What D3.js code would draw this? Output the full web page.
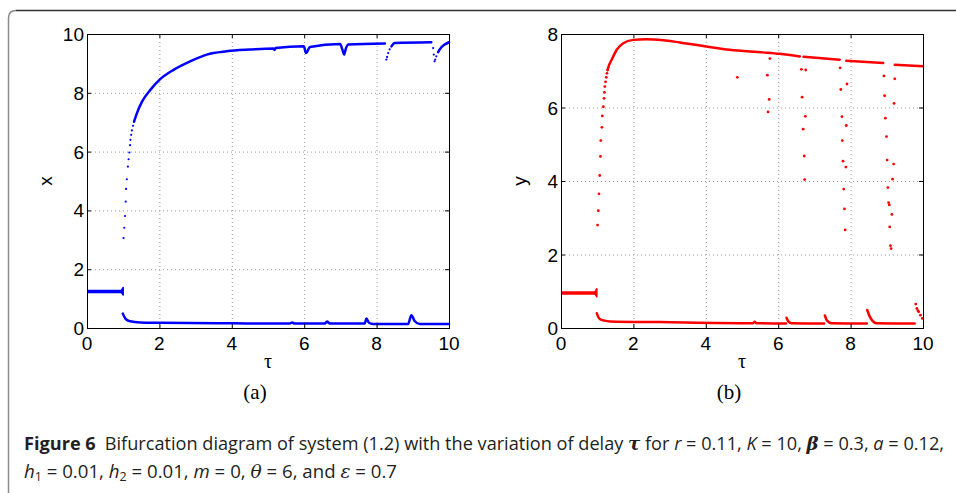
<!DOCTYPE html>
<html>
<head>
<meta charset="utf-8">
<script src="https://cdn.jsdelivr.net/npm/d3@7"></script>
<style>
  body { margin: 0; background: #fff; }
  svg { display: block; }
</style>
</head>
<body>
<script>
// 軸の目盛り
const tauTicks = [0, 2, 4, 6, 8, 10];
const xTicks = [0, 2, 4, 6, 8, 10];
const yTicks = [0, 2, 4, 6, 8];

// (a) x の分岐図 : 連続部分は線、まばらな部分は点
const xSteady = [[0, 1.24], [0.99, 1.24]];
const xFlare = [[0.93, 1.24], [1.0, 1.12], [1.0, 1.38], [0.93, 1.24]];
const xRiseDots = [[1.01, 3.06], [1.03, 3.41], [1.05, 3.81], [1.07, 4.30], [1.08, 4.73], [1.10, 5.06], [1.13, 5.49], [1.15, 5.74], [1.17, 5.97], [1.19, 6.22], [1.20, 6.40], [1.22, 6.57], [1.24, 6.72], [1.27, 6.88], [1.30, 7.02]];
const xUpper = [
    [[1.30, 7.02], [1.38, 7.31], [1.52, 7.70], [1.75, 8.10], [2.0, 8.44], [2.39, 8.78], [2.85, 9.07], [3.31, 9.30], [3.86, 9.41], [4.5, 9.47], [5.15, 9.51], [5.18, 9.46], [5.21, 9.52], [5.99, 9.58], [6.05, 9.35], [6.16, 9.56], [6.99, 9.66], [7.06, 9.45], [7.1, 9.30], [7.15, 9.5], [7.22, 9.64], [8.23, 9.68]],
    [[8.41, 9.58], [8.5, 9.69], [9.51, 9.72]],
    [[9.70, 9.38], [9.74, 9.47], [9.88, 9.64], [10, 9.72]]
];
const xUpperDots = [[8.27, 9.13], [8.29, 9.22], [8.32, 9.35], [8.36, 9.48], [9.56, 9.52], [9.58, 9.3], [9.60, 9.07], [9.62, 9.13], [9.65, 9.24]];
const xLower = [[0.99, 0.49], [1.06, 0.32], [1.19, 0.23], [1.47, 0.19], [2, 0.18], [4.04, 0.16], [5.6, 0.15], [5.67, 0.19], [5.73, 0.15], [6.57, 0.15], [6.63, 0.22], [6.71, 0.15], [7.67, 0.15], [7.72, 0.32], [7.79, 0.18], [7.9, 0.14], [8.87, 0.14], [8.96, 0.43], [9.05, 0.24], [9.19, 0.14], [10, 0.14]];

// (b) y の分岐図
const ySteady = [[0, 0.95], [0.98, 0.95]];
const yFlare = [[0.92, 0.95], [0.99, 0.85], [0.99, 1.07], [0.92, 0.95]];
const yRiseDots = [[1.01, 2.8], [1.03, 3.19], [1.05, 3.65], [1.07, 4.15], [1.09, 4.67], [1.10, 5.10], [1.13, 5.46], [1.14, 5.77], [1.17, 6.02], [1.19, 6.25], [1.20, 6.41], [1.21, 6.57], [1.23, 6.70], [1.25, 6.82], [1.27, 6.93], [1.29, 7.02]];
const yUpper = [
    [[1.29, 7.02], [1.31, 7.1], [1.4, 7.3], [1.54, 7.57], [1.72, 7.75], [2.0, 7.84], [2.36, 7.86], [2.82, 7.83], [3.28, 7.77], [4.02, 7.66], [4.66, 7.57], [5.58, 7.5], [6.04, 7.46], [6.6, 7.39]],
    [[6.7, 7.38], [7.7, 7.3]],
    [[7.88, 7.27], [8.9, 7.21]],
    [[9.22, 7.16], [10, 7.12]]
];
const yScatter = [[4.87, 6.82], [5.70, 6.88], [5.77, 7.33], [5.75, 6.22], [5.72, 5.88], [6.64, 7.04], [6.76, 7.02], [6.66, 6.28], [6.75, 5.76], [6.69, 5.41], [6.72, 4.68], [6.73, 4.04], [7.71, 7.08], [7.90, 6.64], [7.73, 6.49], [7.76, 5.75], [7.88, 5.51], [7.77, 5.10], [7.79, 4.54], [7.87, 4.38], [7.81, 3.78], [7.83, 3.24], [7.85, 2.67], [8.92, 6.86], [9.22, 6.78], [8.94, 6.32], [9.20, 6.11], [8.96, 5.71], [8.99, 5.21], [9.01, 4.57], [9.19, 4.46], [9.03, 3.82], [9.16, 4.05], [9.05, 3.41], [9.07, 3.35], [9.14, 3.09], [9.08, 2.75], [9.10, 2.24], [9.12, 2.16]];
const yLower = [
    [[0.99, 0.4], [1.03, 0.3], [1.08, 0.24], [1.2, 0.2], [1.35, 0.18], [2.73, 0.16], [5.3, 0.13], [5.35, 0.17], [5.4, 0.13], [6.22, 0.12]],
    [[6.23, 0.28], [6.28, 0.18], [6.37, 0.13], [7.27, 0.12]],
    [[7.29, 0.34], [7.35, 0.2], [7.47, 0.13], [8.45, 0.12]],
    [[8.46, 0.49], [8.52, 0.33], [8.6, 0.2], [8.71, 0.13], [9.77, 0.12]]
];
const yTailDots = [[9.80, 0.65], [9.83, 0.53], [9.86, 0.47], [9.88, 0.44], [9.93, 0.35], [9.98, 0.26]];

const width = 956, height = 493;

const svg = d3.select("body").append("svg")
    .attr("width", width)
    .attr("height", height)
    .attr("viewBox", `0 0 ${width} ${height}`);

svg.append("rect").attr("width", width).attr("height", height).attr("fill", "#fff");

// 外枠 (左上が丸い)
svg.append("path")
    .attr("d", "M8.5,493 L8.5,18 Q8.5,10.5 16,10.5")
    .attr("fill", "none").attr("stroke", "#8a8a8a").attr("stroke-width", 1.5);
svg.append("path")
    .attr("d", "M16,10.5 L956,10.5")
    .attr("fill", "none").attr("stroke", "#333").attr("stroke-width", 1.5);

// パネルを描く関数
function drawPanel(opt) {
    const xs = d3.scaleLinear().domain([0, 10]).range([opt.left, opt.right]);
    const ys = d3.scaleLinear().domain([0, opt.ymax]).range([328, 34]);
    const g = svg.append("g");

    // グリッド (点線)
    g.selectAll(".vg").data(tauTicks.slice(1, -1)).enter().append("line")
        .attr("x1", d => xs(d) + 0.5).attr("x2", d => xs(d) + 0.5)
        .attr("y1", ys(opt.ymax)).attr("y2", ys(0))
        .attr("stroke", "#9a9a9a").attr("stroke-width", 1).attr("stroke-dasharray", "1,3");
    g.selectAll(".hg").data(opt.yticks.slice(1, -1)).enter().append("line")
        .attr("x1", xs(0)).attr("x2", xs(10))
        .attr("y1", d => ys(d) + 0.5).attr("y2", d => ys(d) + 0.5)
        .attr("stroke", "#9a9a9a").attr("stroke-width", 1).attr("stroke-dasharray", "1,3");

    const line = d3.line().x(d => xs(d[0])).y(d => ys(d[1])).curve(d3.curveMonotoneX);
    const straight = d3.line().x(d => xs(d[0])).y(d => ys(d[1]));

    // 平衡状態 (太い帯)
    g.append("path").attr("d", straight(opt.steady))
        .attr("fill", "none").attr("stroke", opt.color).attr("stroke-width", opt.bandW);
    g.append("path").attr("d", straight(opt.flare))
        .attr("fill", opt.color).attr("stroke", opt.color).attr("stroke-width", 1.5)
        .attr("stroke-linejoin", "round");

    // 連続した枝
    opt.curves.forEach(seg => {
        g.append("path").attr("d", line(seg))
            .attr("fill", "none").attr("stroke", opt.color)
            .attr("stroke-width", 2.5).attr("stroke-linecap", "round").attr("stroke-linejoin", "round");
    });

    // まばらな点
    g.selectAll(".dot").data(opt.dots).enter().append("circle")
        .attr("cx", d => xs(d[0])).attr("cy", d => ys(d[1]))
        .attr("r", opt.dotR).attr("fill", opt.color);

    // 枠と内向きの目盛り
    g.append("rect")
        .attr("x", xs(0) + 0.5).attr("y", ys(opt.ymax) + 0.5)
        .attr("width", xs(10) - xs(0)).attr("height", ys(0) - ys(opt.ymax))
        .attr("fill", "none").attr("stroke", "#000").attr("stroke-width", 1);
    const tl = 4;
    tauTicks.forEach(t => {
        g.append("line").attr("x1", xs(t) + 0.5).attr("x2", xs(t) + 0.5)
            .attr("y1", ys(0)).attr("y2", ys(0) - tl).attr("stroke", "#000");
        g.append("line").attr("x1", xs(t) + 0.5).attr("x2", xs(t) + 0.5)
            .attr("y1", ys(opt.ymax)).attr("y2", ys(opt.ymax) + tl).attr("stroke", "#000");
    });
    opt.yticks.forEach(t => {
        g.append("line").attr("x1", xs(0)).attr("x2", xs(0) + tl)
            .attr("y1", ys(t) + 0.5).attr("y2", ys(t) + 0.5).attr("stroke", "#000");
        g.append("line").attr("x1", xs(10)).attr("x2", xs(10) - tl)
            .attr("y1", ys(t) + 0.5).attr("y2", ys(t) + 0.5).attr("stroke", "#000");
    });

    // 目盛りラベル
    g.selectAll(".xt").data(tauTicks).enter().append("text")
        .attr("x", d => xs(d)).attr("y", 350)
        .attr("text-anchor", "middle")
        .attr("font-family", "Liberation Sans, Arial, sans-serif").attr("font-size", 19)
        .text(d => d);
    g.selectAll(".yt").data(opt.yticks).enter().append("text")
        .attr("x", xs(0) - 3).attr("y", d => ys(d) + 7)
        .attr("text-anchor", "end")
        .attr("font-family", "Liberation Sans, Arial, sans-serif").attr("font-size", 19)
        .text(d => d);

    // 軸ラベル
    g.append("text")
        .attr("transform", `translate(${opt.left - 35},${(34 + 328) / 2}) rotate(-90)`)
        .attr("text-anchor", "middle")
        .attr("font-family", "Liberation Sans, Arial, sans-serif").attr("font-size", 19)
        .text(opt.ylabel);
    g.append("text")
        .attr("x", (opt.left + opt.right) / 2).attr("y", 368)
        .attr("text-anchor", "middle")
        .attr("font-family", "Liberation Serif, serif").attr("font-size", 20)
        .text("τ");
    g.append("text")
        .attr("x", (opt.left + opt.right) / 2 - 13).attr("y", 399)
        .attr("text-anchor", "middle")
        .attr("font-family", "Liberation Serif, serif").attr("font-size", 21)
        .text(opt.tag);
}

drawPanel({
    left: 87, right: 449, ymax: 10, yticks: xTicks, color: "#0000ff",
    steady: xSteady, flare: xFlare, bandW: 3.5, dotR: 1.1,
    curves: [...xUpper, xLower], dots: [...xRiseDots, ...xUpperDots],
    ylabel: "x", tag: "(a)"
});
drawPanel({
    left: 561, right: 923, ymax: 8, yticks: yTicks, color: "#ff0000",
    steady: ySteady, flare: yFlare, bandW: 3.5, dotR: 1.4,
    curves: [...yUpper, ...yLower], dots: [...yRiseDots, ...yScatter, ...yTailDots],
    ylabel: "y", tag: "(b)"
});

// キャプション
const cap = svg.append("g")
    .attr("font-family", "Open Sans, Noto Sans, sans-serif")
    .attr("font-size", 18)
    .attr("fill", "#231f20");

const l1 = cap.append("text").attr("x", 24).attr("y", 450)
    .attr("textLength", 920).attr("lengthAdjust", "spacingAndGlyphs");
l1.append("tspan").attr("font-weight", "bold").text("Figure 6");
l1.append("tspan").text("\u2002Bifurcation diagram of system (1.2) with the variation of delay ");
l1.append("tspan").attr("font-weight", "bold").attr("font-style", "italic").attr("font-family", "DejaVu Serif, serif").text("τ");
l1.append("tspan").text(" for ");
l1.append("tspan").attr("font-style", "italic").text("r");
l1.append("tspan").text(" = 0.11, ");
l1.append("tspan").attr("font-style", "italic").text("K");
l1.append("tspan").text(" = 10, ");
l1.append("tspan").attr("font-weight", "bold").attr("font-style", "italic").attr("font-family", "DejaVu Serif, serif").text("β");
l1.append("tspan").text(" = 0.3, ");
l1.append("tspan").attr("font-style", "italic").text("a");
l1.append("tspan").text(" = 0.12,");

const l2 = cap.append("text").attr("x", 24).attr("y", 478)
    .attr("textLength", 373).attr("lengthAdjust", "spacingAndGlyphs");
l2.append("tspan").attr("font-style", "italic").text("h");
l2.append("tspan").attr("font-size", 12).attr("dy", 3).text("1");
l2.append("tspan").attr("dy", -3).text(" = 0.01, ");
l2.append("tspan").attr("font-style", "italic").text("h");
l2.append("tspan").attr("font-size", 12).attr("dy", 3).text("2");
l2.append("tspan").attr("dy", -3).text(" = 0.01, ");
l2.append("tspan").attr("font-style", "italic").text("m");
l2.append("tspan").text(" = 0, ");
l2.append("tspan").attr("font-style", "italic").attr("font-family", "DejaVu Serif, serif").text("θ");
l2.append("tspan").text(" = 6, and ");
l2.append("tspan").attr("font-style", "italic").attr("font-family", "DejaVu Serif, serif").text("ε");
l2.append("tspan").text(" = 0.7");
</script>
</body>
</html>
